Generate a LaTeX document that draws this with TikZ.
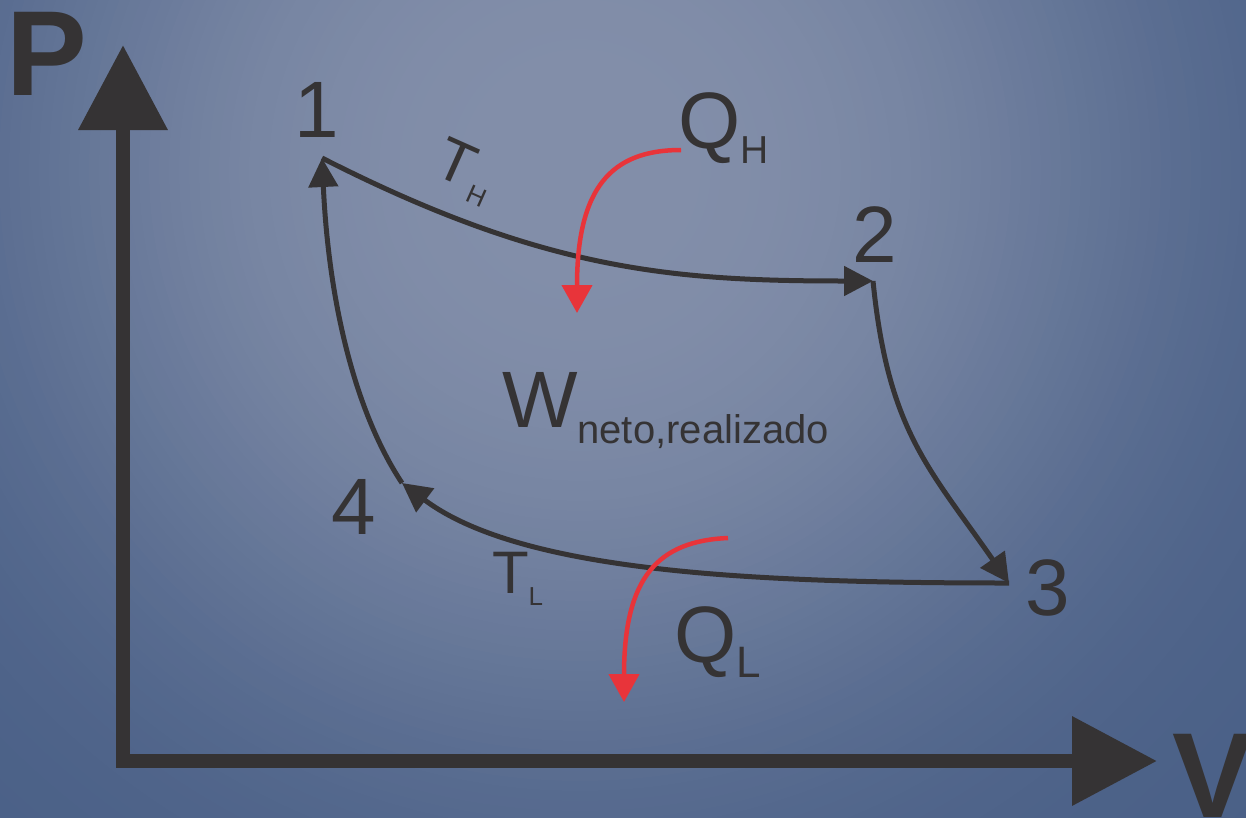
\documentclass[tikz,border=0pt]{standalone}
\usepackage{fontspec}
\setmainfont{Liberation Sans}
\usetikzlibrary{arrows.meta}
\definecolor{ink}{HTML}{353334}
\definecolor{heat}{HTML}{E8343A}
\definecolor{bgA}{HTML}{828EA9}
\definecolor{bgE}{HTML}{4A6087}
\newcommand\fsz[1]{\fontsize{#1}{#1}\selectfont}
\begin{document}
\begin{tikzpicture}[x=1pt,y=-1pt,
  lbl/.style={inner sep=0pt, outer sep=0pt, text=ink},
  cyc/.style={draw=ink, line width=5pt, -{Triangle[length=29pt,width=29pt]}},
  heatarrow/.style={draw=heat, line width=4.5pt, -{Triangle[length=28pt,width=30pt]}},
  axis/.style={draw=ink, line width=14pt, line join=miter, {Triangle[length=85pt,width=86pt]}-{Triangle[length=85pt,width=86pt]}}]
\useasboundingbox (0,0) rectangle (1246,817);
\begin{scope}
\clip (0,0) rectangle (1246,817);
\foreach \r in {1000,990,...,0}{
  \pgfmathsetmacro\p{100*exp(-(\r/560)^3)}
  \fill[bgA!\p!bgE] (580,170) circle[radius=\r+1];
}
\end{scope}
% coordinates
\coordinate (O) at (123,761);
\coordinate (ytip) at (123,45);
\coordinate (xtip) at (1157,761);
\coordinate (c1) at (322,158);
\coordinate (c2) at (873,281);
\coordinate (c3) at (1009,583);
\coordinate (c4) at (402,483);
\coordinate (qhs) at (681,150);
\coordinate (qhe) at (577,313);
\coordinate (qls) at (728,538);
\coordinate (qle) at (624,702);
% axes
\draw[axis] (ytip) -- (O) -- (xtip);
% cycle
\draw[cyc] (c1) .. controls +(222,113) and +(-200,0) .. (c2);
\draw[cyc] (c2) .. controls +(15,150) and +(-80,-115) .. (c3);
\draw[cyc] (c3) .. controls +(-250,0) and +(120,90) .. (c4);
\draw[cyc] (c4) .. controls +(-45,-68) and +(7,150) .. (c1);
% heat arrows
\draw[heatarrow] (qhs) .. controls +(-70,0) and +(0,-125) .. (qhe);
\draw[heatarrow] (qls) .. controls +(-70,3) and +(0,-125) .. (qle);
% labels
\node[lbl, font=\fsz{121}\bfseries, anchor=base west] (P) at (6,95) {P};
\node[lbl, font=\fsz{121}\bfseries, anchor=base west] (V) at (1172,817) {V};
\node[lbl, font=\fsz{80}, anchor=base] (n1) at (317,137) {1};
\node[lbl, font=\fsz{80}, anchor=base] (n2) at (875,262) {2};
\node[lbl, font=\fsz{80}, anchor=base] (n3) at (1048,615) {3};
\node[lbl, font=\fsz{80}, anchor=base] (n4) at (354,534) {4};
\node[lbl, font=\fsz{80}, anchor=base west] (QH) at (678,148) {Q\raisebox{-15pt}{\fsz{39}H}};
\node[lbl, font=\fsz{80}, anchor=base west] (QL) at (674,662) {Q\raisebox{-15pt}{\fsz{44}L}};
\node[lbl, font=\fsz{80}, anchor=base west] (W) at (502,427) {W\raisebox{-16pt}{\fsz{40}neto,realizado}};
\node[lbl, font=\fsz{60}, anchor=base west] (TL) at (492,593) {T\raisebox{-12pt}{\fsz{26}L}};
\node[lbl, font=\fsz{60}, anchor=base west, rotate=-24] (TH) at (431,173) {T\kern5pt\raisebox{-12pt}{\fsz{26}H}};
\end{tikzpicture}
\end{document}
